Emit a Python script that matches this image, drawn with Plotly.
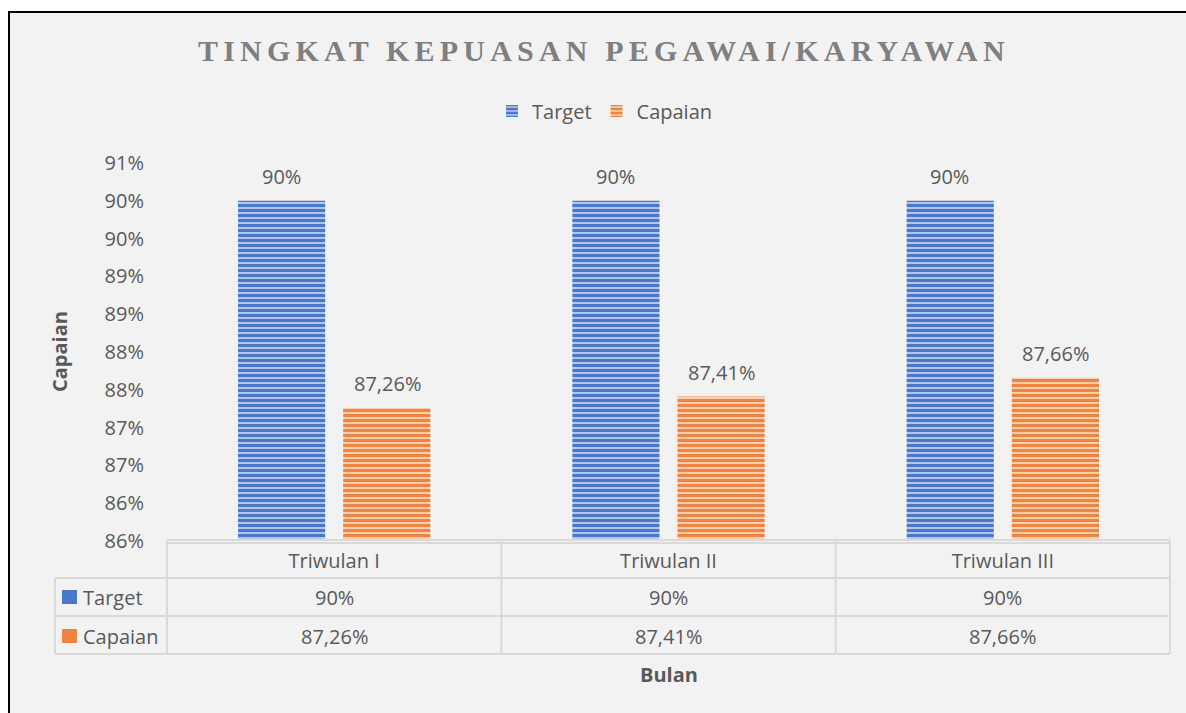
import plotly.graph_objects as go

# ---- data ----
categories = ["Triwulan I", "Triwulan II", "Triwulan III"]
target = [90.0, 90.0, 90.0]
capaian = [87.26, 87.41, 87.66]
series_names = ["Target", "Capaian"]
y_tickvals = [85.5, 86.0, 86.5, 87.0, 87.5, 88.0, 88.5, 89.0, 89.5, 90.0, 90.5]
y_ticktext = ["86%", "86%", "87%", "87%", "88%", "88%", "89%", "89%", "90%", "90%", "91%"]
title_text = "TINGKAT KEPUASAN PEGAWAI/KARYAWAN"
x_title = "Bulan"
y_title = "Capaian"

# ---- layout geometry (pixels) ----
W, H = 1186, 713
L, R, T, B = 167, 16, 163, 172
PW, PH = W - L - R, H - T - B


def px_x(p):
    return (p - L) / PW


def px_y(p):
    return (H - B - p) / PH


def fmt(v):
    if abs(v - round(v)) < 1e-9:
        return f"{int(round(v))}%"
    return f"{v:.2f}".replace(".", ",") + "%"


TXT = "#595959"
FONT = "Open Sans"
BLUE, BLUE_L = "#4a78cc", "#b3c6ea"
ORANGE, ORANGE_L = "#ef8440", "#f9cfb0"
GRID = "#d9d9d9"

fig = go.Figure()
fig.add_trace(go.Bar(
    x=categories, y=target, name=series_names[0],
    marker=dict(color=BLUE_L, line=dict(width=0),
                pattern=dict(shape="-", fgcolor=BLUE, bgcolor=BLUE_L,
                             size=5, solidity=0.6, fillmode="replace")),
))
fig.add_trace(go.Bar(
    x=categories, y=capaian, name=series_names[1],
    marker=dict(color=ORANGE_L, line=dict(width=0),
                pattern=dict(shape="-", fgcolor=ORANGE, bgcolor=ORANGE_L,
                             size=5, solidity=0.6, fillmode="replace")),
))

shapes = []
# chart area background with black top/left border
shapes.append(dict(type="rect", xref="paper", yref="paper", layer="below",
                   x0=px_x(9), x1=px_x(1220), y0=px_y(740), y1=px_y(12),
                   fillcolor="#f2f2f2", line=dict(color="black", width=2)))


def hline(y, x0, x1):
    shapes.append(dict(type="line", xref="paper", yref="paper",
                       x0=px_x(x0), x1=px_x(x1), y0=px_y(y), y1=px_y(y),
                       line=dict(color=GRID, width=2)))


def vline(x, y0, y1):
    shapes.append(dict(type="line", xref="paper", yref="paper",
                       x0=px_x(x), x1=px_x(x), y0=px_y(y0), y1=px_y(y1),
                       line=dict(color=GRID, width=2)))


hline(540, 167, 1170)
hline(543, 167, 1170)
hline(578, 55, 1170)
hline(616, 55, 1170)
hline(654, 55, 1170)
ncat = len(categories)
for k in range(ncat + 1):
    vline(L + PW * k / ncat, 541, 654)
vline(55, 578, 654)

# legend keys inside the data table
for (y0, y1, col) in [(590, 604, BLUE), (629, 643, ORANGE)]:
    shapes.append(dict(type="rect", xref="paper", yref="paper",
                       x0=px_x(62), x1=px_x(77), y0=px_y(y1), y1=px_y(y0),
                       fillcolor=col, line=dict(width=0)))

ann = []
# title
ann.append(dict(xref="paper", yref="paper", x=px_x(604), y=px_y(50),
                xanchor="center", yanchor="middle", showarrow=False,
                text=f'<b><span style="letter-spacing:5.2px">{title_text}</span></b>',
                font=dict(family="Liberation Serif", size=30, color="#7f7f7f")))
# data labels above bars
for cat, tv, cv in zip(categories, target, capaian):
    ann.append(dict(xref="x", yref="y", x=cat, y=tv, xshift=-53, yshift=24,
                    text=fmt(tv), showarrow=False,
                    font=dict(family=FONT, size=20, color=TXT)))
    ann.append(dict(xref="x", yref="y", x=cat, y=cv, xshift=53, yshift=24,
                    text=fmt(cv), showarrow=False,
                    font=dict(family=FONT, size=20, color=TXT)))
# table rows
for name, vals, ypx in [(series_names[0], target, 597), (series_names[1], capaian, 636)]:
    ann.append(dict(xref="paper", yref="paper", x=px_x(81), y=px_y(ypx),
                    xanchor="left", yanchor="middle", text=name, showarrow=False,
                    font=dict(family=FONT, size=20, color=TXT)))
    for cat, v in zip(categories, vals):
        ann.append(dict(xref="x", yref="paper", x=cat, y=px_y(ypx),
                        xanchor="center", yanchor="middle", text=fmt(v),
                        showarrow=False, font=dict(family=FONT, size=20, color=TXT)))
# axis titles
ann.append(dict(xref="paper", yref="paper", x=px_x(669), y=px_y(674),
                xanchor="center", yanchor="middle", text=f"<b>{x_title}</b>",
                showarrow=False, font=dict(family=FONT, size=20, color=TXT)))
ann.append(dict(xref="paper", yref="paper", x=px_x(59), y=0.5, textangle=-90,
                xanchor="center", yanchor="middle", text=f"<b>{y_title}</b>",
                showarrow=False, font=dict(family=FONT, size=20, color=TXT)))

fig.update_layout(
    width=W, height=H,
    margin=dict(l=L, r=R, t=T, b=B, pad=0),
    paper_bgcolor="white", plot_bgcolor="rgba(0,0,0,0)",
    barmode="group", bargap=0.371, bargroupgap=0.171,
    font=dict(family=FONT, size=20, color=TXT),
    showlegend=True,
    legend=dict(orientation="h", x=px_x(605), xanchor="center",
                y=px_y(111), yanchor="middle",
                font=dict(family=FONT, size=20, color=TXT),
                bgcolor="rgba(0,0,0,0)", itemwidth=30),
    shapes=shapes, annotations=ann,
)
fig.update_xaxes(showline=False, showgrid=False, zeroline=False, ticks="",
                 ticklabelstandoff=6, tickfont=dict(family=FONT, size=20, color=TXT))
fig.update_yaxes(range=[85.5, 90.5], tickvals=y_tickvals, ticktext=y_ticktext,
                 showline=False, showgrid=False, zeroline=False, ticks="",
                 ticklabelstandoff=22, tickfont=dict(family=FONT, size=20, color=TXT))

fig.write_html(
    "out.html",
    config={"displayModeBar": False},
    post_script="document.body.style.margin='0';document.body.style.overflow='hidden';",
)
